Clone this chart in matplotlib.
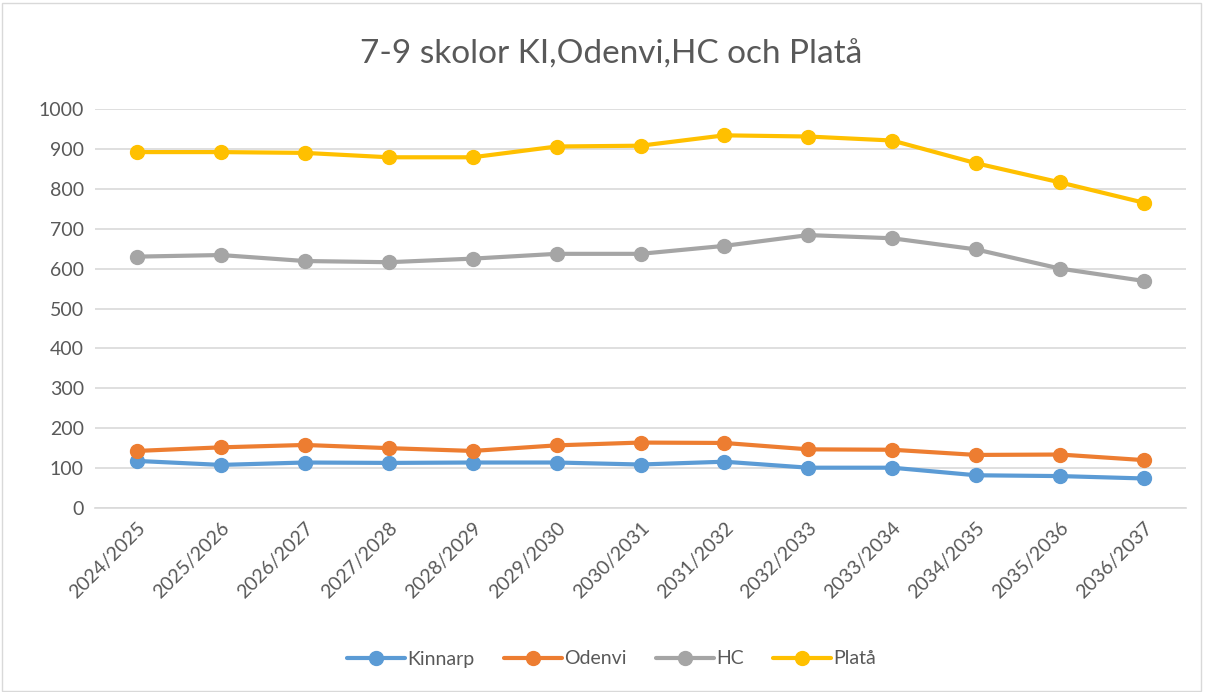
import numpy as np
import matplotlib.pyplot as plt
from matplotlib.patches import Rectangle

plt.rcParams['font.family'] = ['Lato', 'DejaVu Sans']

years = ['2024/2025', '2025/2026', '2026/2027', '2027/2028', '2028/2029',
         '2029/2030', '2030/2031', '2031/2032', '2032/2033', '2033/2034',
         '2034/2035', '2035/2036', '2036/2037']
kinnarp = [118, 108, 114, 113, 114, 114, 109, 116, 101, 101, 82, 80, 74]
odenvi = [143, 152, 158, 150, 143, 157, 164, 163, 147, 146, 133, 134, 120]
hc = [630, 634, 619, 616, 625, 637, 637, 657, 684, 676, 648, 600, 569]
plata = [892, 892, 890, 879, 879, 906, 908, 934, 931, 921, 864, 816, 765]

series = [('Kinnarp', kinnarp, '#5B9BD5'),
          ('Odenvi', odenvi, '#ED7D31'),
          ('HC', hc, '#A5A5A5'),
          ('Platå', plata, '#FFC000')]

fig = plt.figure(figsize=(12.06, 6.92), dpi=100)
ax = fig.add_axes([95/1206, 1 - 508/692, (1186-95)/1206, (508-109)/692])

x = np.arange(len(years))
for name, vals, col in series:
    ax.plot(x, vals, color=col, lw=3, marker='o', ms=10, label=name,
            solid_capstyle='round')

ax.set_xlim(-0.5, len(years) - 0.5)
ax.set_ylim(0, 1000)
ax.set_yticks(range(0, 1001, 100))
ax.set_xticks(x)
ax.set_xticklabels(years, rotation=45, ha='right', rotation_mode='anchor')
ax.tick_params(axis='both', length=0, labelsize=14, colors='#595959', pad=8)
ax.grid(axis='y', color='#D9D9D9', lw=1.2)
ax.set_axisbelow(True)
for s in ['top', 'right', 'left']:
    ax.spines[s].set_visible(False)
ax.spines['bottom'].set_color('#D9D9D9')
ax.spines['bottom'].set_linewidth(1.2)

fig.text(0.507, 1 - 55/692, '7-9 skolor KI,Odenvi,HC och Platå', ha='center',
         va='center', fontsize=24, color='#595959')

fig.legend(loc='center', bbox_to_anchor=(0.507, 1 - 659/692), ncol=4,
           frameon=False, fontsize=14, labelcolor='#595959', handlelength=3,
           columnspacing=1.5, handletextpad=0.1)

fig.patches.append(Rectangle((0.002, 0.002), 0.994, 0.994, transform=fig.transFigure,
                             fill=False, edgecolor='#D9D9D9', lw=1))

fig.savefig('out.png', dpi=100)
